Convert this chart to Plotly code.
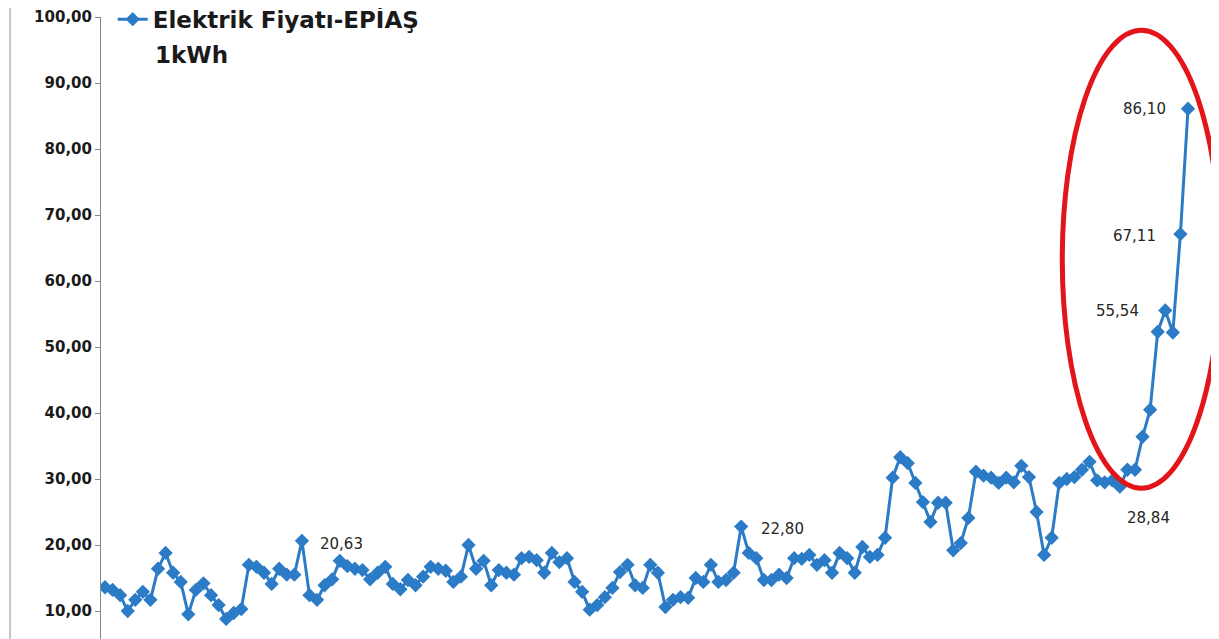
import plotly.graph_objects as go

# Elektrik fiyatı (EPİAŞ), 1 kWh
prices = [
    13.6, 13.2, 12.4, 10.0, 11.7, 12.9, 11.7, 16.4, 18.8, 15.8,
    14.4, 9.5, 13.2, 14.2, 12.4, 10.9, 8.8, 9.7, 10.3, 17.0,
    16.7, 15.8, 14.1, 16.4, 15.5, 15.5, 20.63, 12.4, 11.7,
    13.9, 14.8, 17.6, 16.8, 16.4, 16.2, 14.8, 15.8, 16.7, 14.1,
    13.3, 14.7, 13.9, 15.2, 16.7, 16.4, 16.1, 14.4, 15.2, 20.0,
    16.4, 17.6, 13.9, 16.2, 15.8, 15.5, 18.0, 18.2,
    17.7, 15.8, 18.8, 17.4, 18.0, 14.4, 12.9, 10.2, 10.9, 12.1,
    13.5, 15.9, 17.0, 13.9, 13.5, 17.0, 15.8, 10.6, 11.7, 12.1,
    12.0, 15.0, 14.4, 17.0, 14.4, 14.7, 15.8, 22.80, 18.8,
    18.0, 14.7, 14.7, 15.5, 15.0, 18.0, 17.9, 18.5, 17.0, 17.7,
    15.8, 18.8, 18.0, 15.8, 19.7, 18.2, 18.5, 21.1, 30.2, 33.3,
    32.4, 29.4, 26.5, 23.5, 26.4, 26.4, 19.2, 20.3,
    24.1, 31.1, 30.5, 30.2, 29.4, 30.2, 29.5, 32.0, 30.3, 25.0,
    18.5, 21.1, 29.4, 30.0, 30.3, 31.4, 32.6, 29.8, 29.5, 29.8,
    28.84, 31.4, 31.4, 36.4, 40.5,
    52.3, 55.54, 52.2, 67.11, 86.10,
]
periods = list(range(len(prices)))

# points that carry a data label
labelled = [26, 84, 134, 140, 142, 143]
y_ticks = [10, 20, 30, 40, 50, 60, 70, 80, 90, 100]

series_name = "Elektrik Fiyatı-EPİAŞ"
unit_text = "1kWh"
blue = "#2B7BC6"

# label placement: (xanchor, xshift, yshift)
label_style = {
    26: ("left", 16, -3),
    84: ("left", 18, -2),
    134: ("center", 29, -31),
    140: ("right", -24, -1),
    142: ("right", -22, -2),
    143: ("right", -20, 0),
}

fig = go.Figure()
fig.add_trace(go.Scatter(
    x=periods, y=prices,
    mode="lines+markers",
    name=series_name,
    line=dict(color=blue, width=3),
    marker=dict(symbol="diamond", size=11, color=blue),
    showlegend=True,
))

for i in labelled:
    anchor, dx, dy = label_style[i]
    fig.add_annotation(
        x=periods[i], y=prices[i],
        text=f"{prices[i]:.2f}".replace(".", ","),
        showarrow=False, xanchor=anchor, yanchor="middle",
        xshift=dx, yshift=dy,
        font=dict(family="DejaVu Sans", size=15, color="#262626"),
    )

# second line of the legend
fig.add_annotation(
    xref="paper", yref="paper", x=0.0466, y=0.939,
    xanchor="left", yanchor="middle", showarrow=False,
    text=unit_text,
    font=dict(family="DejaVu Sans", size=23, color="#1a1a1a", weight="bold"),
)

# red ellipse round the last weeks
fig.add_shape(
    type="circle", xref="x", yref="y",
    x0=126.4, x1=147.3, y0=28.6, y1=98.0,
    line=dict(color="#E3151B", width=5),
)
# chart borders
fig.add_shape(type="line", xref="paper", yref="paper", x0=-0.0815, x1=-0.0815,
              y0=-0.05, y1=1.05, line=dict(color="#8c8c8c", width=1))
fig.add_shape(type="line", xref="paper", yref="paper", x0=1, x1=1,
              y0=-0.05, y1=1.05, line=dict(color="#a6a6a6", width=1))

n = len(prices)
step = (1188 - 105) / (n - 1)
x_lo = -(105 - 101) / step
x_hi = x_lo + 1116 / step

# page body keeps an 8px margin, so the figure is shifted by it
fig.update_layout(
    width=1211, height=631,
    margin=dict(l=93, r=2, t=9, b=0, autoexpand=False),
    paper_bgcolor="white", plot_bgcolor="white",
    separators=",.",
    showlegend=True,
    legend=dict(
        x=0.0105, y=1.031, xanchor="left", yanchor="top",
        bgcolor="rgba(0,0,0,0)",
        font=dict(family="DejaVu Sans", size=23, color="#1a1a1a", weight="bold"),
        itemwidth=30,
    ),
    xaxis=dict(visible=False, range=[x_lo, x_hi]),
    yaxis=dict(
        range=[5.76, 100], tickvals=y_ticks, tickformat=".2f",
        showgrid=False, zeroline=False,
        showline=True, linecolor="#868686", linewidth=1,
        ticks="outside", ticklen=5, tickcolor="#868686",
        tickfont=dict(family="DejaVu Sans", size=15, color="#1a1a1a", weight="bold"),
    ),
)

fig.write_html("out.html")
